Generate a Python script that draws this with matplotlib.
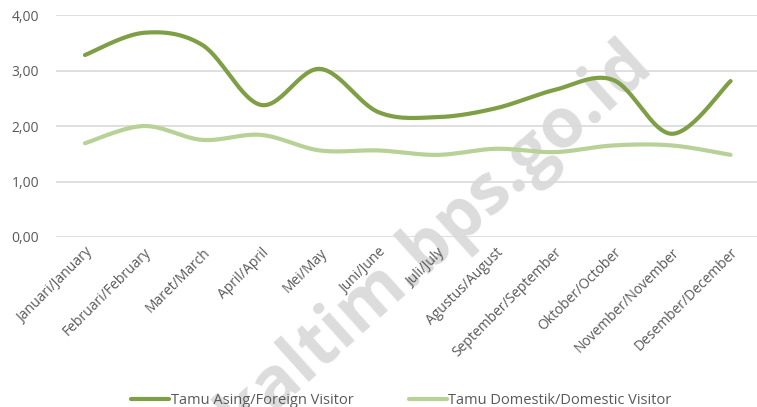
import numpy as np
import matplotlib.pyplot as plt

months = ["Januari/January", "Februari/February", "Maret/March", "April/April",
          "Mei/May", "Juni/June", "Juli/July", "Agustus/August",
          "September/September", "Oktober/October", "November/November",
          "Desember/December"]
foreign = [3.28, 3.68, 3.46, 2.38, 3.03, 2.25, 2.16, 2.32, 2.65, 2.83, 1.86, 2.81]
domestic = [1.69, 2.00, 1.75, 1.84, 1.56, 1.56, 1.48, 1.59, 1.53, 1.65, 1.65, 1.48]

# excel-like smoothing (catmull-rom bezier)
def smooth(y, n=30):
    x = np.arange(len(y), dtype=float)
    y = np.asarray(y, dtype=float)
    xs, ys = [], []
    for i in range(len(y) - 1):
        p0 = (x[max(i-1, 0)], y[max(i-1, 0)])
        p1 = (x[i], y[i])
        p2 = (x[i+1], y[i+1])
        p3 = (x[min(i+2, len(y)-1)], y[min(i+2, len(y)-1)])
        c1 = (p1[0] + (p2[0]-p0[0])/6, p1[1] + (p2[1]-p0[1])/6)
        c2 = (p2[0] - (p3[0]-p1[0])/6, p2[1] - (p3[1]-p1[1])/6)
        t = np.linspace(0, 1, n)
        for k in range(2):
            b = ((1-t)**3*p1[k] + 3*(1-t)**2*t*c1[k] + 3*(1-t)*t**2*c2[k] + t**3*p2[k])
            (xs if k == 0 else ys).append(b)
    return np.concatenate(xs), np.concatenate(ys)

plt.rcParams['font.family'] = ['Open Sans', 'DejaVu Sans']

fig = plt.figure(figsize=(7.57, 4.07), dpi=100)
ax = fig.add_axes([0.0735, 0.4177, 0.9265, 0.5453])
ax.patch.set_alpha(0)

fx, fy = smooth(foreign)
dx, dy = smooth(domestic)
ax.plot(fx, fy, color='#7E9F45', lw=3.0, solid_capstyle='round', label='Tamu Asing/Foreign Visitor', zorder=3)
ax.plot(dx, dy, color='#B7D197', lw=3.0, solid_capstyle='round', label='Tamu Domestik/Domestic Visitor', zorder=3)

ax.set_ylim(0, 4)
ax.set_xlim(-0.5, 11.45)
ax.set_yticks([0, 1, 2, 3, 4])
ax.set_yticklabels(['0,00', '1,00', '2,00', '3,00', '4,00'])
ax.set_xticks(range(len(months)))
ax.set_xticklabels(months, rotation=45, ha='right', rotation_mode='anchor')
ax.tick_params(length=0, labelcolor='#595959', labelsize=10)
ax.tick_params(axis='y', pad=12)
ax.tick_params(axis='x', pad=6)
ax.grid(axis='y', color='#D9D9D9', lw=1.2)
ax.set_axisbelow(True)
for s in ax.spines.values():
    s.set_visible(False)

leg = fig.legend(loc='lower center', bbox_to_anchor=(0.53, -0.035), ncol=2, frameon=False,
                 fontsize=10.5, handlelength=2.6, handletextpad=0.1, columnspacing=3.8,
                 labelcolor='#595959')

# watermark
ax.text(0.865, 0.828, 'www.kaltim.bps.go.id', transform=fig.transFigure, rotation=42,
        rotation_mode='anchor', ha='right', va='baseline', fontsize=50,
        fontweight='bold', color='#DCDCDC', zorder=0.1, clip_on=False)

fig.savefig('out.png', dpi=100)
